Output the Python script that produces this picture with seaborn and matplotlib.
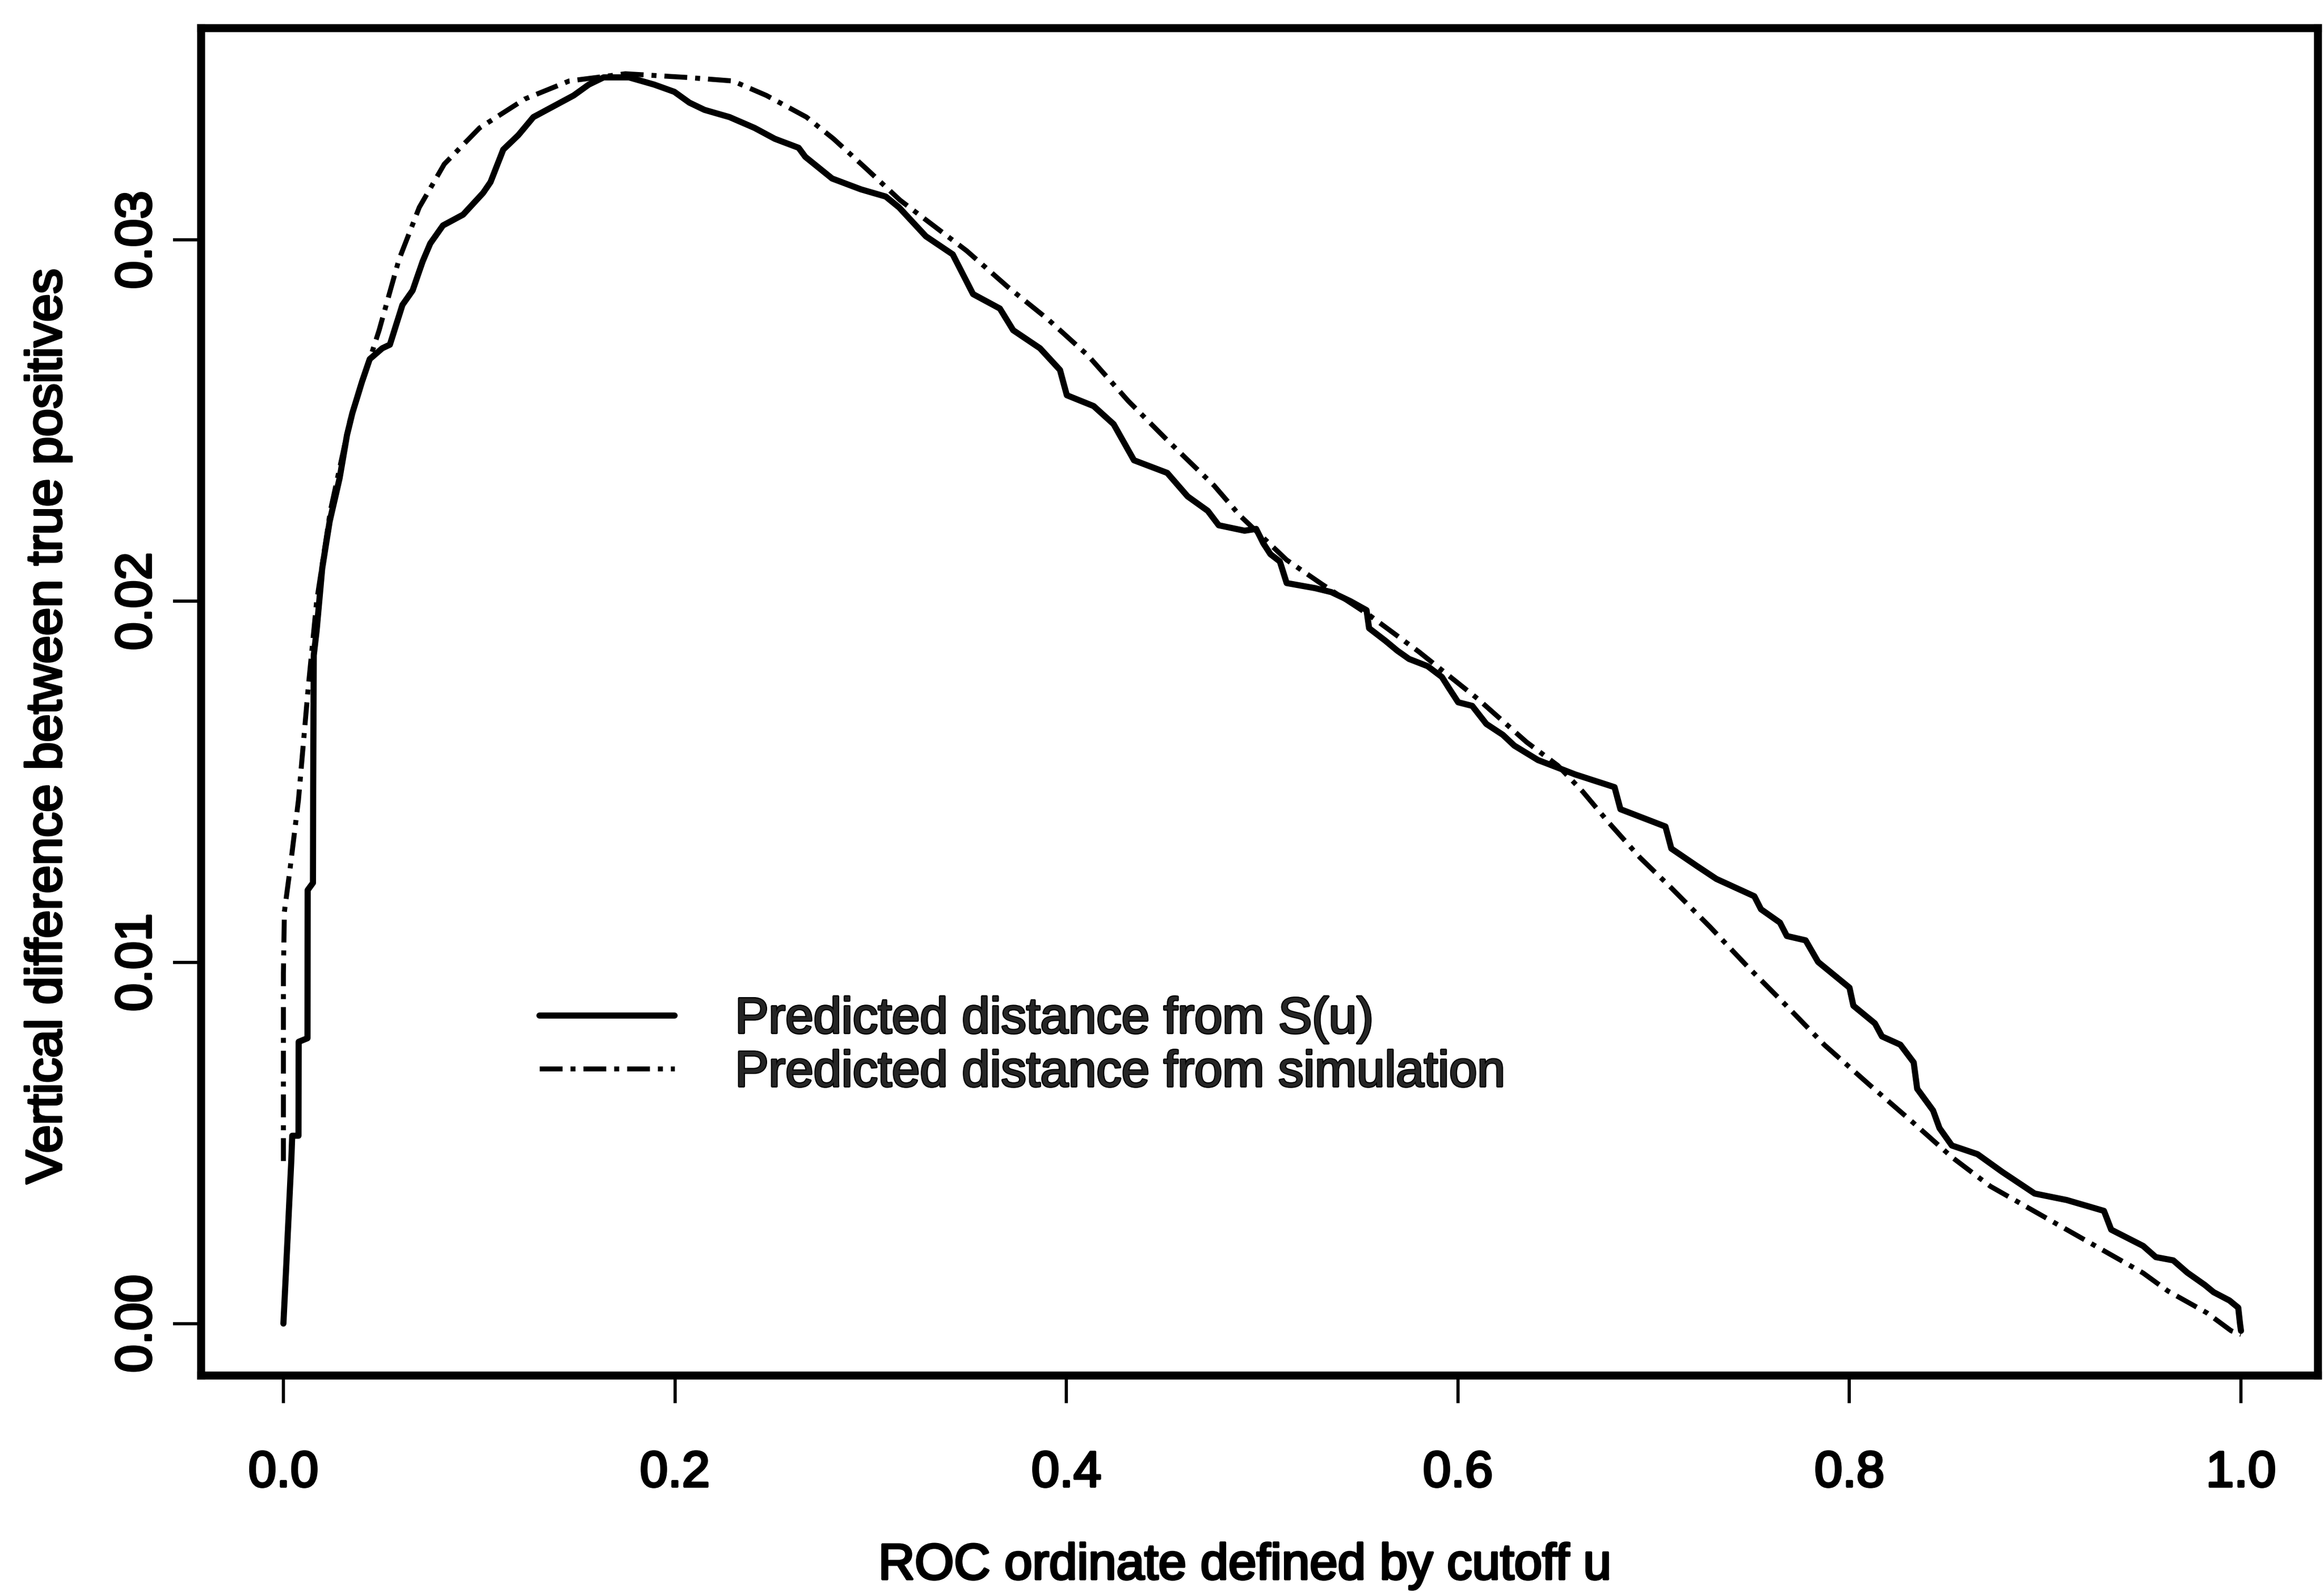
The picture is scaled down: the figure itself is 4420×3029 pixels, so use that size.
import numpy as np
import pandas as pd
import matplotlib
matplotlib.use("Agg")
import matplotlib.pyplot as plt
import matplotlib.patheffects as pe
import seaborn as sns

# ---- data ----
su_x = [0.0, 0.0013, 0.004, 0.0045, 0.0077, 0.0078, 0.0123, 0.0124, 0.0151, 0.0152, 0.0155, 0.017,
        0.0198, 0.0236, 0.0287, 0.0325, 0.0352, 0.0403, 0.0441, 0.0505, 0.0544, 0.0608, 0.066,
        0.0711, 0.075, 0.0815, 0.0918, 0.102, 0.1058, 0.1123, 0.12, 0.1277, 0.138, 0.1483, 0.156,
        0.1636, 0.1765, 0.1894, 0.1997, 0.2074, 0.2151, 0.2279, 0.2407, 0.251, 0.2632, 0.2666,
        0.2803, 0.295, 0.3077, 0.3145, 0.3282, 0.3419, 0.3523, 0.366, 0.3728, 0.3865, 0.3967,
        0.4002, 0.4139, 0.4241, 0.4345, 0.4515, 0.4619, 0.4722, 0.4778, 0.491, 0.4969, 0.5006,
        0.5042, 0.509, 0.5125, 0.527, 0.5353, 0.545, 0.5533, 0.5546, 0.563, 0.569, 0.575, 0.5845,
        0.5918, 0.5953, 0.6001, 0.6073, 0.6145, 0.6229, 0.6288, 0.6409, 0.6505, 0.66, 0.680,
        0.683, 0.706, 0.709, 0.722, 0.732, 0.7514, 0.7548, 0.7645, 0.768, 0.7776, 0.784, 0.800,
        0.802, 0.813, 0.8166, 0.826, 0.8328, 0.8346, 0.8427, 0.846, 0.8523, 0.8654, 0.878, 0.8946,
        0.911, 0.930, 0.9337, 0.950, 0.9565, 0.9654, 0.9726, 0.9815, 0.986, 0.9941, 0.9986,
        0.9995, 1.0]
su_y = [0.0, 0.00143, 0.00448, 0.0052, 0.0052, 0.0078, 0.0079, 0.0120, 0.0122, 0.0148, 0.0185, 0.0192,
        0.0209, 0.0222, 0.0234, 0.0246, 0.0252, 0.0261, 0.0267, 0.0270, 0.0271, 0.0282, 0.0286,
        0.0294, 0.0299, 0.0304, 0.0307, 0.0313, 0.0316, 0.0325, 0.0329, 0.0334, 0.0337, 0.0340,
        0.0343, 0.0345, 0.0345, 0.0343, 0.0341, 0.0338, 0.0336, 0.0334, 0.0331, 0.0328, 0.03255,
        0.0323, 0.0317, 0.0314, 0.0312, 0.0309, 0.0301, 0.0296, 0.0285, 0.0281, 0.0275, 0.0270,
        0.0264, 0.0257, 0.0254, 0.0249, 0.0239, 0.02355, 0.0229, 0.0225, 0.0221, 0.02195, 0.0220,
        0.0216, 0.0213, 0.0211, 0.0205, 0.02036, 0.02025, 0.0200, 0.01975, 0.01925, 0.0189,
        0.01863, 0.0184, 0.0182, 0.0179, 0.0176, 0.0172, 0.0171, 0.0166, 0.0163, 0.0160, 0.0156,
        0.0154, 0.0152, 0.01485, 0.01424, 0.01376, 0.01315, 0.01267, 0.01231, 0.01183, 0.01147,
        0.0111, 0.01073, 0.01061, 0.01001, 0.0093, 0.0088, 0.00831, 0.00795, 0.00772, 0.00723,
        0.0065, 0.0059, 0.00541, 0.00493, 0.00469, 0.0042, 0.0036, 0.00342, 0.00312, 0.0026,
        0.00215, 0.00184, 0.00175, 0.00141, 0.00107, 0.00087, 0.00064, 0.00044, 0.0, -0.0002]

sim_x = [0.0, 0.0, 0.0, 0.0005, 0.0032, 0.0077, 0.0125, 0.017, 0.024, 0.034, 0.0489, 0.059, 0.0694,
         0.0822, 0.1002, 0.1233, 0.146, 0.1747, 0.2056, 0.2296, 0.2467, 0.2672, 0.281, 0.298, 0.315,
         0.332, 0.349, 0.370, 0.3906, 0.411, 0.4316, 0.452, 0.4754, 0.4886, 0.5125, 0.5305, 0.555,
         0.58, 0.61, 0.635, 0.651, 0.6637, 0.6767, 0.693, 0.709, 0.7288, 0.748, 0.7678, 0.7873,
         0.810, 0.8328, 0.8525, 0.872, 0.898, 0.924, 0.950, 0.9627, 0.9726, 0.9825, 0.995, 1.0]
sim_y = [0.0045, 0.0067, 0.0097, 0.0114, 0.0125, 0.0145, 0.0175, 0.0200, 0.0225, 0.0250, 0.0275,
         0.02945, 0.0309, 0.0321, 0.0331, 0.0339, 0.0344, 0.0346, 0.0345, 0.0344, 0.0340, 0.0334,
         0.0328, 0.03196, 0.0311, 0.0304, 0.0297, 0.0287, 0.0278, 0.0268, 0.02554, 0.02443, 0.0232,
         0.02237, 0.02114, 0.02047, 0.0196, 0.0186, 0.0173, 0.0161, 0.01545, 0.01473, 0.01389,
         0.0129, 0.01206, 0.01098, 0.00988, 0.0088, 0.00771, 0.00662, 0.00555, 0.0046, 0.0038,
         0.0030, 0.0022, 0.0014, 0.0009, 0.0006, 0.0003, -0.0002, -0.0003]

x_ticks = [0.0, 0.2, 0.4, 0.6, 0.8, 1.0]
x_tick_labels = ["0.0", "0.2", "0.4", "0.6", "0.8", "1.0"]
y_ticks = [0.0, 0.01, 0.02, 0.03]
y_tick_labels = ["0.00", "0.01", "0.02", "0.03"]
label_su = "Predicted distance from S(u)"
label_sim = "Predicted distance from simulation"
x_title = "ROC ordinate defined by cutoff u"
y_title = "Vertical difference between true positives"

# ---- style ----
sns.set_theme(style="white")
plt.rcParams['font.family'] = ['Liberation Sans', 'DejaVu Sans']
FS = 34.5
bold_fx = [pe.withStroke(linewidth=1.6, foreground="black")]

fig = plt.figure(figsize=(22.1, 15.145), dpi=200)
ax = fig.add_axes([0.0864, 0.1367, 0.9109, 0.8458])

df_su = pd.DataFrame({"u": su_x, "d": su_y})
df_sim = pd.DataFrame({"u": sim_x, "d": sim_y})

sns.lineplot(data=df_su, x="u", y="d", ax=ax, estimator=None, sort=False,
             color="black", linewidth=4.2, label=label_su)
sns.lineplot(data=df_sim, x="u", y="d", ax=ax, estimator=None, sort=False,
             color="black", linewidth=3.4, linestyle=(0, (4.6, 1.6, 1.0, 1.6)),
             label=label_sim)

ax.set_xlim(-0.0422, 1.0392)
ax.set_ylim(-0.00143, 0.03587)

ax.set_xticks(x_ticks)
ax.set_xticklabels(x_tick_labels)
ax.set_yticks(y_ticks)
ax.set_yticklabels(y_tick_labels, rotation=90, va="center")

ax.tick_params(axis="both", which="major", direction="out", length=19, width=2.2,
               color="black", labelsize=FS, labelcolor="black", left=True, bottom=True)
ax.tick_params(axis="x", pad=32)
ax.tick_params(axis="y", pad=8)

for s in ax.spines.values():
    s.set_visible(True)
    s.set_color("black")
    s.set_linewidth(5.5)

ax.set_xlabel(x_title, fontsize=FS, color="black")
ax.set_ylabel(y_title, fontsize=FS, color="black")
ax.xaxis.set_label_coords(0.4933, -0.124)
ax.yaxis.set_label_coords(-0.061, 0.482)

handles = ax.get_lines()[:2]
leg = ax.legend(handles=handles, labels=[label_su, label_sim], loc="center left",
                bbox_to_anchor=(0.160, 0.244), frameon=False, fontsize=FS,
                handlelength=2.68, handletextpad=1.2, labelspacing=0.12,
                borderpad=0, borderaxespad=0)

for t in (ax.get_xticklabels() + ax.get_yticklabels() + leg.get_texts()
          + [ax.xaxis.label, ax.yaxis.label]):
    t.set_path_effects(bold_fx)

ax.grid(False)
ax.set_facecolor("white")
fig.patch.set_facecolor("white")
fig.savefig("out.png", dpi=200, facecolor="white")
